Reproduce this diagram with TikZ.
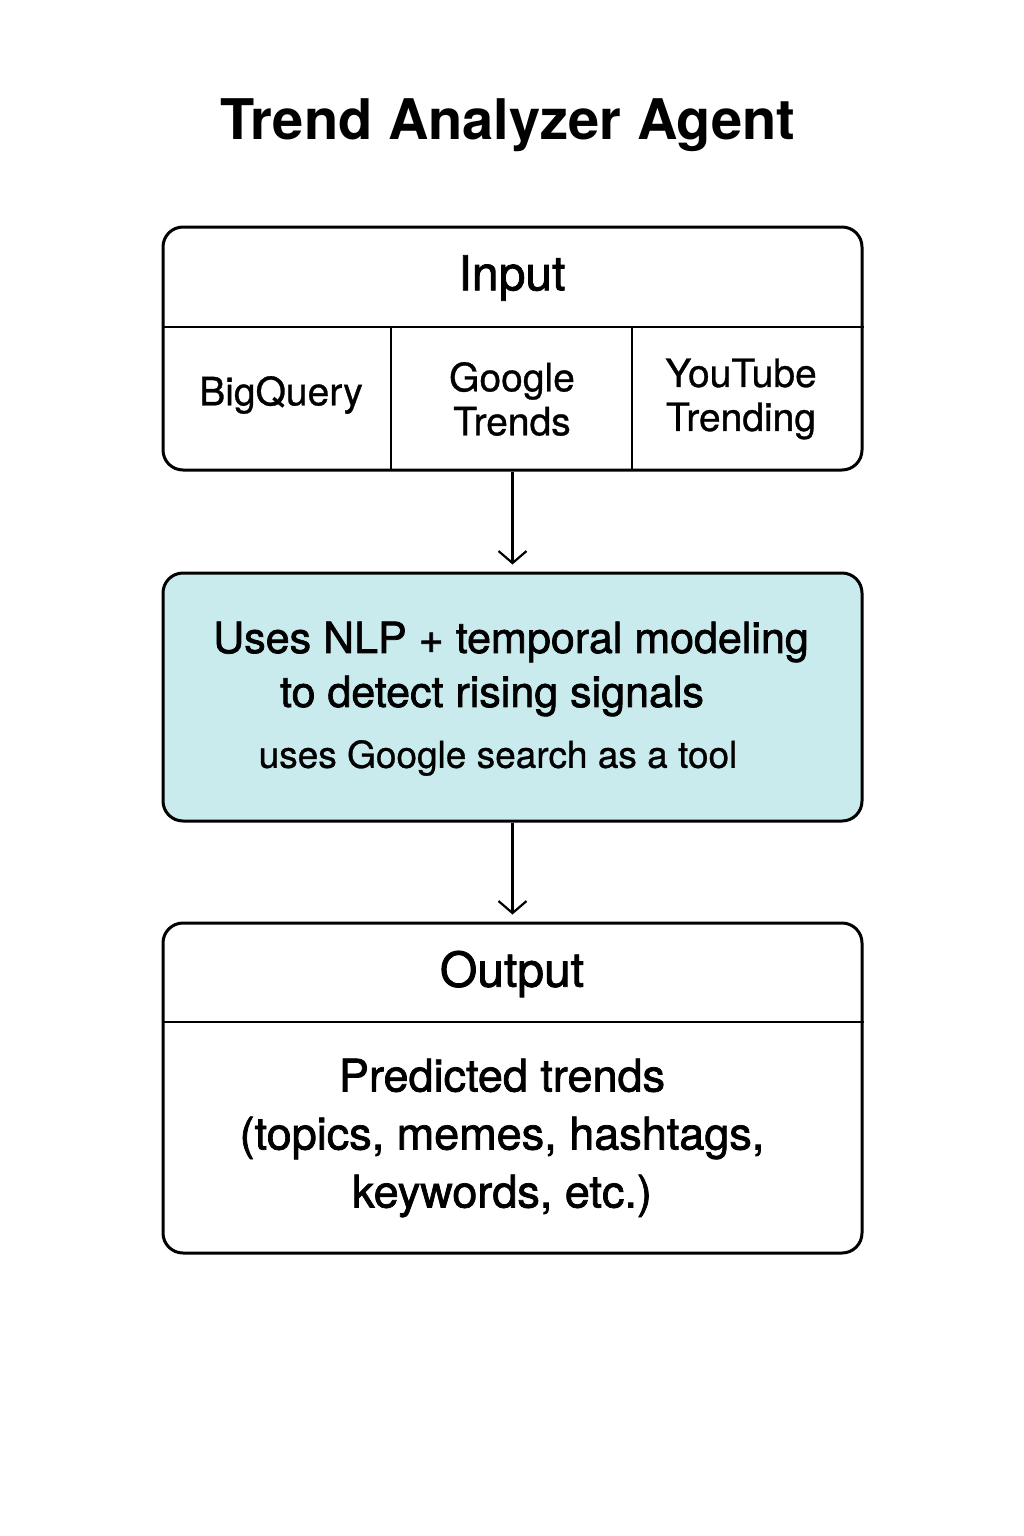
\documentclass[tikz,border=0pt]{standalone}
\usepackage{fontspec}
\setmainfont{TeX Gyre Heros}
\newfontfamily\heavy[FakeBold=1.6]{TeX Gyre Heros}
\newfontfamily\semi[FakeBold=0.8]{TeX Gyre Heros}
\usetikzlibrary{arrows.meta}
\definecolor{modelfill}{HTML}{C9EBEE}
\begin{document}
\begin{tikzpicture}[x=1pt, y=-1pt,
   box/.style={draw, line width=3pt, rounded corners=20pt, inner sep=0pt},
   rule/.style={line width=2.6pt},
   flow/.style={line width=2.2pt, -{Straight Barb[length=12pt, width=28pt, line width=2.2pt]}},
   head/.style={font=\heavy\fontsize{48}{56}\selectfont, align=center},
   big/.style={font=\heavy\fontsize{43}{54}\selectfont, align=center},
   small/.style={font=\semi\fontsize{39}{44}\selectfont, align=center}]

\useasboundingbox (0,0) rectangle (1024,1536);

\node[font=\bfseries\fontsize{56}{64}\selectfont] (title) at (508,125) {Trend Analyzer Agent};

% input
\node[box, minimum width=699pt, minimum height=243pt] (input) at (512.5,348.5) {};
\draw[rule] (input.west |- 0,327) -- (input.east |- 0,327);
\draw[rule] (391,327) -- (391,470);
\draw[rule] (632,327) -- (632,470);
\node[head] (inhead) at (512,278) {Input};
\node[small] (bq) at (281,395) {BigQuery};
\node[small] (gt) at (512,399) {Google\\Trends};
\node[small] (yt) at (741,399) {YouTube\\Trending};

% model
\node[box, fill=modelfill, minimum width=699pt, minimum height=248pt] (model) at (512.5,697) {};
\node[big] (line1) at (511,642) {Uses NLP + temporal modeling};
\node[big] (line2) at (492,696) {to detect rising signals};
\node[small, font=\semi\fontsize{37}{44}\selectfont] (line3) at (498,758) {uses Google search as a tool};

% output
\node[box, minimum width=699pt, minimum height=330pt] (output) at (512.5,1088) {};
\draw[rule] (output.west |- 0,1022) -- (output.east |- 0,1022);
\node[head] (outhead) at (512,974) {Output};
\node[big, font=\heavy\fontsize{45}{58}\selectfont] (pred) at (502,1138) {Predicted trends\\(topics, memes, hashtags,\\keywords, etc.)};

\draw[flow] (input.south) -- ([yshift=7pt]model.north);
\draw[flow] (model.south) -- ([yshift=7pt]output.north);

\end{tikzpicture}
\end{document}
